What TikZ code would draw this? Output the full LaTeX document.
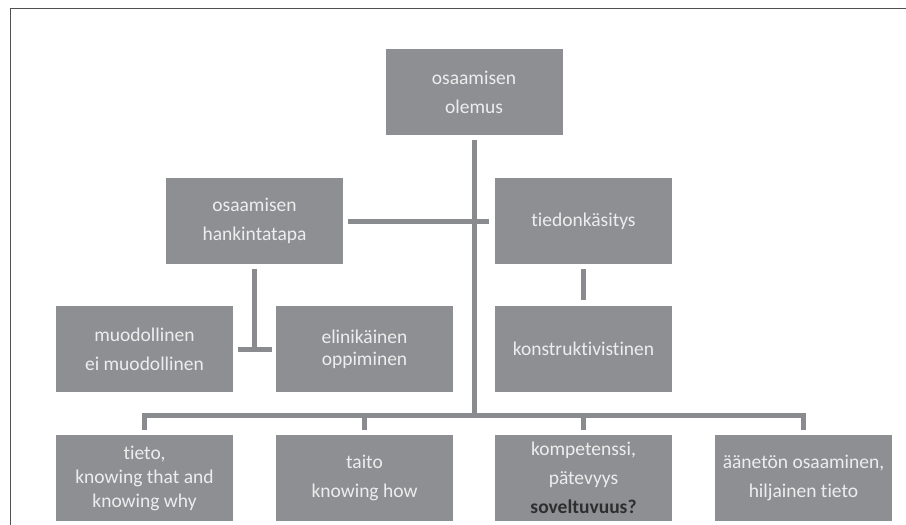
\documentclass[tikz,border=0pt]{standalone}
\usepackage{fontspec}
\setmainfont{Carlito}[Ligatures=NoCommon]
\usepackage{xcolor}
\definecolor{boxgray}{HTML}{8E8F93}
\definecolor{linegray}{HTML}{8A8B8F}
\definecolor{boxtext}{HTML}{EDEDED}
\definecolor{darktext}{HTML}{2E2E2E}
\definecolor{framegray}{HTML}{505050}
\tikzset{
  box/.style={fill=boxgray, text=boxtext, minimum width=177pt, minimum height=86pt,
    inner sep=0pt, align=center, font=\fontsize{19.5}{29}\selectfont},
  link/.style={draw=linegray, line width=5pt},
  frame/.style={draw=framegray, line width=1pt}
}

\begin{document}
\begin{tikzpicture}[x=1pt, y=-1pt]
\useasboundingbox (0,0) rectangle (906,525);
\draw[frame] (10,525) -- (10,8) -- (906,8);

% boxes
\node[box] (olemus) at (474, 92) {osaamisen\\olemus};
\node[box] (hankinta) at (254.5, 221) {osaamisen\\hankintatapa};
\node[box] (tiedon) at (583.5, 221) {tiedonk\"asitys};
\node[box] (muodollinen) at (144.5, 349) {muodollinen\\ei muodollinen};
\node[box, font=\fontsize{19.5}{22}\selectfont] (elinikainen) at (364.5, 349) {elinik\"ainen\\oppiminen};
\node[box] (konstr) at (583.5, 349) {konstruktivistinen};
\node[box, font=\fontsize{19.5}{24}\selectfont] (tieto) at (144.5, 478) {tieto,\\knowing that and\\knowing why};
\node[box] (taito) at (364.5, 478) {taito\\knowing how};
\node[box] (kompetenssi) at (583.5, 478) {kompetenssi,\\p\"atevyys\\\textcolor{darktext}{\textbf{soveltuvuus?}}};
\node[box] (aaneton) at (803.5, 478) {\"a\"anet\"on osaaminen,\\hiljainen tieto};
\coordinate (bus) at (474, 415);
\coordinate (tee) at (hankinta.south |- muodollinen.east);

% lines
\draw[link] ([yshift=-5pt]olemus.south) -- (bus);
\draw[link] ([xshift=5pt]hankinta.east) -- ([xshift=-6pt]tiedon.west);
\draw[link] ([yshift=-5pt]hankinta.south) -- (tee);
\draw[link] ([xshift=5pt]muodollinen.east) -- ([xshift=-4pt]elinikainen.west);
\draw[link] ([yshift=-5pt]tiedon.south) -- ([yshift=6pt]konstr.north);
\foreach \n in {tieto, taito, kompetenssi, aaneton}
  \draw[link] (bus) -| ([yshift=5pt]\n.north);
\end{tikzpicture}
\end{document}
